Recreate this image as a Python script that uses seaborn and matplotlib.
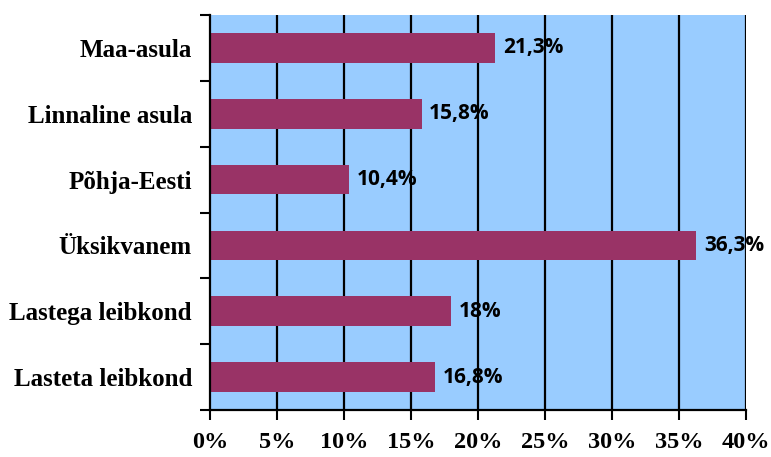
import matplotlib
matplotlib.use("Agg")
import matplotlib.pyplot as plt
import seaborn as sns
import pandas as pd
import numpy as np

# ===== Andmed =====
kategooriad = ["Maa-asula", "Linnaline asula", "Põhja-Eesti",
               "Üksikvanem", "Lastega leibkond", "Lasteta leibkond"]
vaartused = [21.3, 15.8, 10.4, 36.3, 18.0, 16.8]
sildid = ["21,3%", "15,8%", "10,4%", "36,3%", "18%", "16,8%"]
x_ticks = [0, 5, 10, 15, 20, 25, 30, 35, 40]

df = pd.DataFrame({"kategooria": kategooriad, "vaartus": vaartused})

sns.set_style("ticks")
plt.rcParams.update({"text.color": "black", "xtick.color": "black",
                     "ytick.color": "black", "axes.labelcolor": "black"})

fig = plt.figure(figsize=(7.71, 4.57), dpi=100)
ax = fig.add_axes([0.2724, 0.1028, 0.6952, 0.8644])
ax.set_facecolor("#99CCFF")

sns.barplot(data=df, x="vaartus", y="kategooria", color="#993366",
            saturation=1, width=0.45, edgecolor="none", linewidth=0,
            ax=ax, zorder=3)

ax.set_xlim(0, 40)
ax.set_xticks(x_ticks)
ax.set_xticklabels([f"{t}%" for t in x_ticks], fontfamily="Liberation Serif",
                   fontweight="bold", fontsize=17.5)
ax.set_ylim(len(kategooriad) - 0.5, -0.5)

# vertikaalsed ruudujooned
for t in x_ticks[1:]:
    ax.axvline(t, color="black", lw=1.6, zorder=1)

# y-teljel kriipsud kategooriate vahel
ax.set_yticks(np.arange(-0.5, len(kategooriad)), minor=True)
ax.tick_params(axis="y", which="major", length=0, pad=13)
ax.tick_params(axis="y", which="minor", length=7, width=1.5, color="black")
ax.tick_params(axis="x", length=7, width=1.5, color="black", pad=9)
for lab in ax.get_yticklabels():
    lab.set_fontfamily("Liberation Serif")
    lab.set_fontweight("bold")
    lab.set_fontsize(18)
    lab.set_color("black")

ax.set_xlabel("")
ax.set_ylabel("")
for s in ["top", "right"]:
    ax.spines[s].set_visible(False)
for s in ["left", "bottom"]:
    ax.spines[s].set_linewidth(1.6)
    ax.spines[s].set_color("black")
    ax.spines[s].set_zorder(4)

# väärtuste sildid
for i, (v, s) in enumerate(zip(vaartused, sildid)):
    ax.text(v + 0.55, i, s, va="center", ha="left", fontsize=15,
            fontweight="bold", fontfamily="Open Sans", color="black", zorder=5)

fig.savefig("out.png", dpi=100)
